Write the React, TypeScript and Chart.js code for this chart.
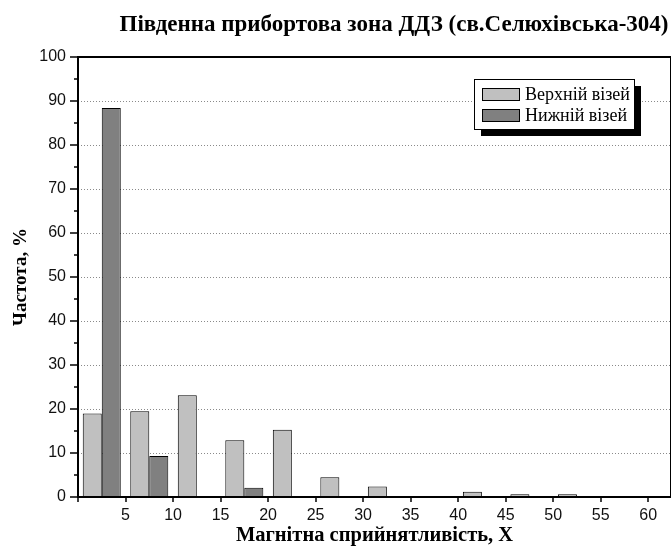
import { useEffect, useRef } from "react";
import { Chart, registerables } from "chart.js";

Chart.register(...registerables);

const titleText = "Південна прибортова зона ДДЗ (св.Селюхівська-304)";
const xTitle = "Магнітна сприйнятливість, X";
const yTitle = "Частота, %";

const binCenters = [2.5, 7.5, 12.5, 17.5, 22.5, 27.5, 32.5, 37.5, 42.5, 47.5, 52.5];
const upperLabel = "Верхній візей";
const lowerLabel = "Нижній візей";
const upperValues = [19.0, 19.5, 23.1, 12.9, 15.3, 4.5, 2.4, null, 1.2, 0.6, 0.6];
const lowerValues = [88.4, 9.3, null, 2.1, null, null, null, null, null, null, null];

const upperColor = "#c0c0c0";
const lowerColor = "#808080";

const decor = {
  id: "decor",
  afterDatasetsDraw(chart: any) {
    const { ctx, chartArea: a, scales } = chart;
    const x = scales.x;
    const y = scales.y;
    ctx.save();
    ctx.strokeStyle = "#000";
    ctx.lineWidth = 1.5;
    for (let v = 0; v <= 100; v += 5) {
      const py = Math.round(y.getPixelForValue(v));
      const len = v % 10 === 0 ? 8 : 4;
      ctx.beginPath();
      ctx.moveTo(a.left - len, py);
      ctx.lineTo(a.left, py);
      ctx.stroke();
    }
    for (let v = 0; v <= x.max; v += 5) {
      const px = Math.round(x.getPixelForValue(v));
      ctx.beginPath();
      ctx.moveTo(px, a.bottom);
      ctx.lineTo(px, a.bottom + 5);
      ctx.stroke();
    }
    ctx.lineWidth = 2;
    ctx.beginPath();
    ctx.moveTo(a.left, a.bottom);
    ctx.lineTo(a.left, a.top);
    ctx.lineTo(a.right, a.top);
    ctx.moveTo(a.left - 1, a.bottom);
    ctx.lineTo(a.right, a.bottom);
    ctx.stroke();
    ctx.lineWidth = 1;
    ctx.beginPath();
    ctx.moveTo(a.right - 0.5, a.top);
    ctx.lineTo(a.right - 0.5, a.bottom);
    ctx.stroke();
    ctx.restore();
  },
  afterDraw(chart: any) {
    const { ctx, chartArea: a } = chart;
    ctx.save();
    ctx.fillStyle = "#000";
    ctx.font = 'bold 23px "Liberation Serif"';
    ctx.textAlign = "center";
    ctx.textBaseline = "alphabetic";
    ctx.fillText(titleText, 394, 31);
    const w = 160;
    const h = 50;
    const bx = a.right - 37 - w;
    const by = a.top + 22;
    ctx.fillStyle = "#000";
    ctx.fillRect(bx + 7, by + 7, w, h);
    ctx.fillStyle = "#fff";
    ctx.fillRect(bx, by, w, h);
    ctx.strokeStyle = "#000";
    ctx.lineWidth = 1;
    ctx.strokeRect(bx + 0.5, by + 0.5, w, h);
    const ds = chart.data.datasets;
    ds.forEach((d: any, i: number) => {
      const cy = by + 15 + i * 21;
      ctx.fillStyle = d.backgroundColor;
      ctx.fillRect(bx + 8, cy - 6, 38, 13);
      ctx.strokeStyle = "#000";
      ctx.strokeRect(bx + 8.5, cy - 5.5, 37, 12);
      ctx.fillStyle = "#000";
      ctx.font = '18px "Liberation Serif"';
      ctx.textAlign = "left";
      ctx.textBaseline = "middle";
      ctx.fillText(d.label, bx + 51, cy + 1);
    });
    ctx.restore();
  },
};

export default function App() {
  const ref = useRef<HTMLCanvasElement | null>(null);
  useEffect(() => {
    if (!ref.current) return;
    const chart = new Chart(ref.current, {
      type: "bar",
      data: {
        datasets: [
          {
            label: upperLabel,
            data: binCenters.map((c, i) => ({ x: c, y: upperValues[i] })),
            backgroundColor: upperColor,
            borderColor: "#000",
            borderWidth: 1,
            categoryPercentage: 0.8,
            barPercentage: 1.0,
          },
          {
            label: lowerLabel,
            data: binCenters.map((c, i) => ({ x: c, y: lowerValues[i] })),
            backgroundColor: lowerColor,
            borderColor: "#000",
            borderWidth: 1,
            categoryPercentage: 0.8,
            barPercentage: 1.0,
          },
        ] as any,
      },
      options: {
        animation: false,
        responsive: false,
        devicePixelRatio: 1,
        layout: { padding: { top: 57, right: 1, left: 0, bottom: 0 } },
        plugins: {
          legend: { display: false },
          tooltip: { enabled: false },
          title: { display: false },
        },
        scales: {
          x: {
            type: "linear",
            offset: false,
            min: 0,
            max: 62.4,
            afterFit: (s: any) => {
              s.height = 51;
              s.paddingLeft = 0;
              s.paddingRight = 0;
            },
            ticks: {
              stepSize: 5,
              padding: 9,
              includeBounds: false,
              color: "#111",
              font: { family: '"Liberation Sans"', size: 16 },
              callback: (v: any) => (v === 0 ? "" : String(v)),
            },
            grid: { display: false, drawTicks: false },
            border: { display: false },
            title: {
              display: true,
              text: xTitle,
              color: "#000",
              font: { family: '"Liberation Serif"', size: 20.5, weight: "bold" },
              padding: { top: 0, bottom: 0 },
            },
          },
          y: {
            min: 0,
            max: 100,
            afterFit: (s: any) => {
              s.width = 78;
              s.paddingTop = 0;
              s.paddingBottom = 0;
            },
            ticks: {
              stepSize: 10,
              padding: 12,
              color: "#111",
              font: { family: '"Liberation Sans"', size: 16 },
            },
            grid: {
              drawTicks: false,
              color: (c: any) =>
                c.tick && c.tick.value > 0 && c.tick.value < 100 ? "#8a8a8a" : "transparent",
              lineWidth: 1,
            },
            border: { display: false, dash: [1, 2] },
            title: {
              display: true,
              text: yTitle,
              color: "#000",
              font: { family: '"Liberation Serif"', size: 19, weight: "bold" },
              padding: { top: 10, bottom: 0 },
            },
          },
        },
      } as any,
      plugins: [decor],
    });
    return () => chart.destroy();
  }, []);
  return (
    <div style={{ position: "absolute", left: 0, top: 0, width: 672, height: 548 }}>
      <canvas ref={ref} width={672} height={548} />
    </div>
  );
}
